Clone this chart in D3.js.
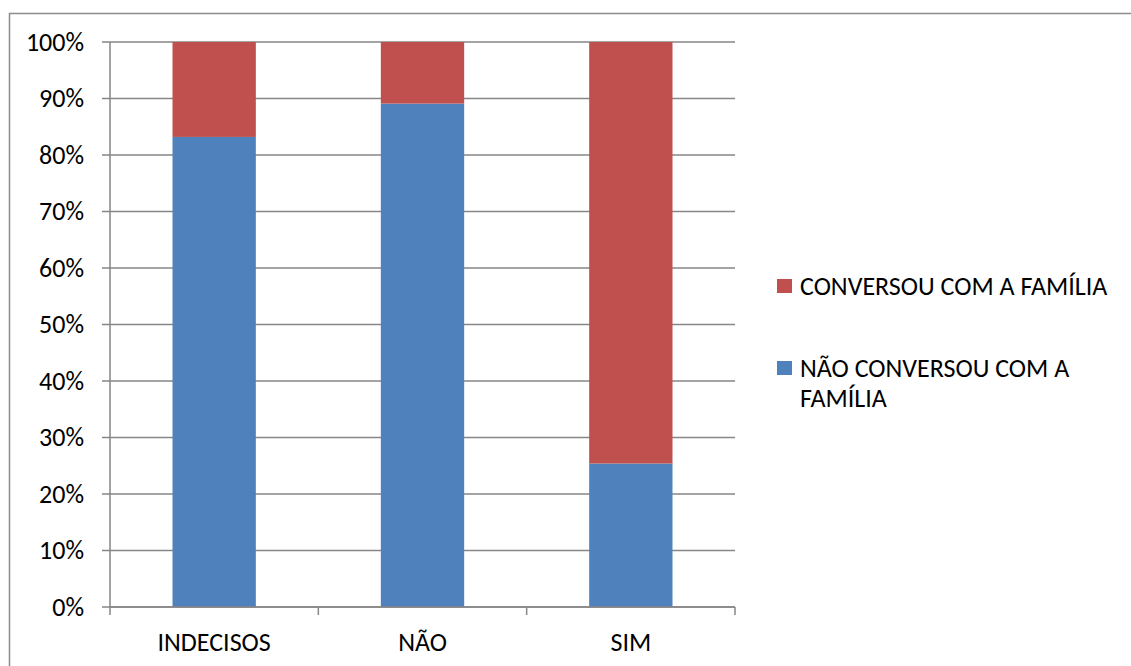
<!DOCTYPE html>
<html>
<head>
<meta charset="utf-8">
<script src="https://cdn.jsdelivr.net/npm/d3@7"></script>
<style>
  body { margin: 0; background: #fff; }
  svg text { font-family: Carlito, Calibri, "Open Sans", sans-serif; fill: #000; }
</style>
</head>
<body>
<svg id="chart" width="1131" height="666"></svg>
<script>
  const categories = ['INDECISOS', 'NÃO', 'SIM'];
  const naoConversou = [83.2, 89.1, 25.4];
  const conversou = [16.8, 10.9, 74.6];
  const yTicks = [0, 10, 20, 30, 40, 50, 60, 70, 80, 90, 100];
  const seriesNames = ['CONVERSOU COM A FAMÍLIA', 'NÃO CONVERSOU COM A FAMÍLIA'];
  const legendLines = [['CONVERSOU COM A FAMÍLIA'], ['NÃO CONVERSOU COM A', 'FAMÍLIA']];

  const RED = '#C0504D';
  const BLUE = '#4F81BD';
  const GRID = '#868686';
  const FONT = '26px';

  const svg = d3.select('#chart');
  const plotLeft = 110, plotRight = 735, plotTop = 42, plotBottom = 607;

  const x = d3.scaleBand()
    .domain(categories)
    .range([plotLeft, plotRight])
    .paddingInner(0.6)
    .paddingOuter(0.3);

  const y = d3.scaleLinear().domain([0, 100]).range([plotBottom, plotTop]);

  // outer frame (only top and left visible)
  svg.append('path')
    .attr('d', 'M9.5,666 V13.5 H1131')
    .attr('fill', 'none')
    .attr('stroke', '#8c8c8c')
    .attr('stroke-width', 1.5);

  // gridlines
  svg.append('g')
    .selectAll('line')
    .data(yTicks)
    .join('line')
      .attr('x1', plotLeft - 8)
      .attr('x2', plotRight)
      .attr('y1', (d) => y(d))
      .attr('y2', (d) => y(d))
      .attr('stroke', GRID)
      .attr('stroke-width', 1.5);

  // y labels
  svg.append('g')
    .selectAll('text')
    .data(yTicks)
    .join('text')
      .attr('x', 84)
      .attr('y', (d) => y(d))
      .attr('dy', '0.34em')
      .attr('text-anchor', 'end')
      .style('font-size', FONT)
      .text((d) => d + '%');

  const rows = categories.map((c, i) => ({ cat: c, a: naoConversou[i], b: conversou[i] }));

  svg.append('g')
    .selectAll('rect')
    .data(rows)
    .join('rect')
      .attr('x', (d) => x(d.cat))
      .attr('width', x.bandwidth())
      .attr('y', (d) => y(d.a))
      .attr('height', (d) => y(0) - y(d.a))
      .attr('fill', BLUE);

  svg.append('g')
    .selectAll('rect')
    .data(rows)
    .join('rect')
      .attr('x', (d) => x(d.cat))
      .attr('width', x.bandwidth())
      .attr('y', (d) => y(d.a + d.b))
      .attr('height', (d) => y(d.a) - y(d.a + d.b))
      .attr('fill', RED);

  // axes lines
  svg.append('line')
    .attr('x1', plotLeft).attr('x2', plotLeft)
    .attr('y1', plotTop).attr('y2', plotBottom)
    .attr('stroke', GRID).attr('stroke-width', 1.5);

  svg.append('line')
    .attr('x1', plotLeft).attr('x2', plotRight)
    .attr('y1', plotBottom).attr('y2', plotBottom)
    .attr('stroke', GRID).attr('stroke-width', 1.5);

  // x ticks at category boundaries
  const bounds = d3.range(categories.length + 1)
    .map((i) => plotLeft + i * (plotRight - plotLeft) / categories.length);
  svg.append('g')
    .selectAll('line')
    .data(bounds)
    .join('line')
      .attr('x1', (d) => d).attr('x2', (d) => d)
      .attr('y1', plotBottom).attr('y2', plotBottom + 8)
      .attr('stroke', GRID).attr('stroke-width', 1.5);

  svg.append('g')
    .selectAll('text')
    .data(categories)
    .join('text')
      .attr('x', (d) => x(d) + x.bandwidth() / 2)
      .attr('y', 651)
      .attr('text-anchor', 'middle')
      .style('font-size', FONT)
      .text((d) => d);

  // legend
  const legend = svg.append('g');
  const legendY = [279, 361];
  const legendColors = [RED, BLUE];

  seriesNames.forEach((name, k) => {
    legend.append('rect')
      .attr('x', 777).attr('y', legendY[k])
      .attr('width', 15).attr('height', 14)
      .attr('fill', legendColors[k]);

    legend.append('text')
      .attr('x', 800)
      .attr('y', legendY[k] + 16)
      .style('font-size', FONT)
      .selectAll('tspan')
      .data(legendLines[k])
      .join('tspan')
        .attr('x', 800)
        .attr('dy', (d, i) => i === 0 ? 0 : 30)
        .text((d) => d);
  });
</script>
</body>
</html>
